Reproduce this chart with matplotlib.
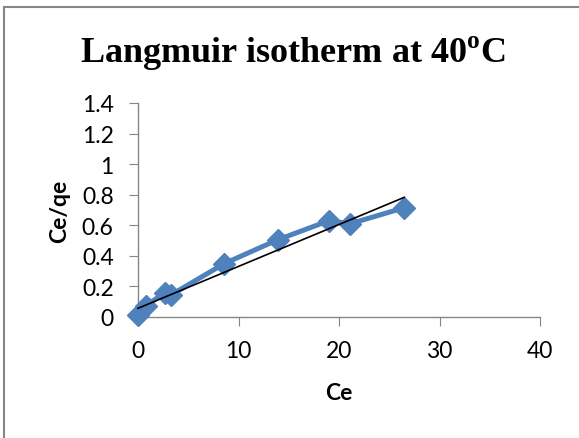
import matplotlib
matplotlib.use("Agg")
import matplotlib.pyplot as plt
import numpy as np

# data
ce = [0.0, 0.8, 2.7, 3.3, 8.6, 13.9, 19.0, 21.1, 26.5]
ce_qe = [0.015, 0.075, 0.16, 0.145, 0.35, 0.505, 0.63, 0.61, 0.715]
# linear trendline as drawn in the chart
trend_slope = 0.0274
trend_icpt = 0.057
xticks = [0, 10, 20, 30, 40]
yticks = [0, 0.2, 0.4, 0.6, 0.8, 1, 1.2, 1.4]
yticklabels = ["0", "0.2", "0.4", "0.6", "0.8", "1", "1.2", "1.4"]

plt.rcParams['mathtext.fontset'] = 'custom'
plt.rcParams['mathtext.rm'] = 'Liberation Serif:bold'
plt.rcParams['mathtext.bf'] = 'Liberation Serif:bold'

fig = plt.figure(figsize=(5.79, 4.39), dpi=100)
ax = fig.add_axes([138/579, 1-318/439, (540-138)/579, (318-104)/439])

ax.plot(ce, ce_qe, color='#4F81BD', lw=3.6, marker='D', ms=11, zorder=3, clip_on=False)

xt = np.array([min(ce), max(ce)])
ax.plot(xt, trend_slope*xt + trend_icpt, color='black', lw=1.2, zorder=4, clip_on=False)

ax.set_xlim(0, 40)
ax.set_ylim(0, 1.4)
ax.set_xticks(xticks)
ax.set_yticks(yticks)
ax.set_yticklabels(yticklabels)
for s in ['top', 'right']:
    ax.spines[s].set_visible(False)
for s in ['left', 'bottom']:
    ax.spines[s].set_color('#868686')
    ax.spines[s].set_linewidth(1.0)
ax.tick_params(direction='out', length=6.5, color='#868686', labelsize=16.5)
ax.tick_params(axis='y', pad=11)
ax.tick_params(axis='x', pad=10)
for lab in ax.get_xticklabels() + ax.get_yticklabels():
    lab.set_fontfamily('Lato')

ax.set_xlabel('Ce', fontfamily='Lato', fontweight='bold', fontsize=16.5)
ax.set_ylabel('Ce/qe', fontfamily='Lato', fontweight='bold', fontsize=16.5)
ax.xaxis.set_label_coords(0.5, (318-394)/214)
ax.xaxis.label.set_va('center')
ax.yaxis.set_label_coords((60-138)/402, 0.5)
ax.yaxis.label.set_va('center')

fig.text(293/579, 1-63.3/439, r'Langmuir isotherm at 40$^{\mathrm{o}}$C',
         ha='center', va='baseline', fontsize=26, fontfamily='Liberation Serif', fontweight='bold')

# chart border (left and top edges only visible)
fig.add_artist(plt.Line2D([4/579, 4/579], [0, 1-8/439], color='#868686', lw=1.5, transform=fig.transFigure))
fig.add_artist(plt.Line2D([4/579, 1], [1-8/439, 1-8/439], color='#868686', lw=1.5, transform=fig.transFigure))

fig.savefig('out.png', dpi=100)
